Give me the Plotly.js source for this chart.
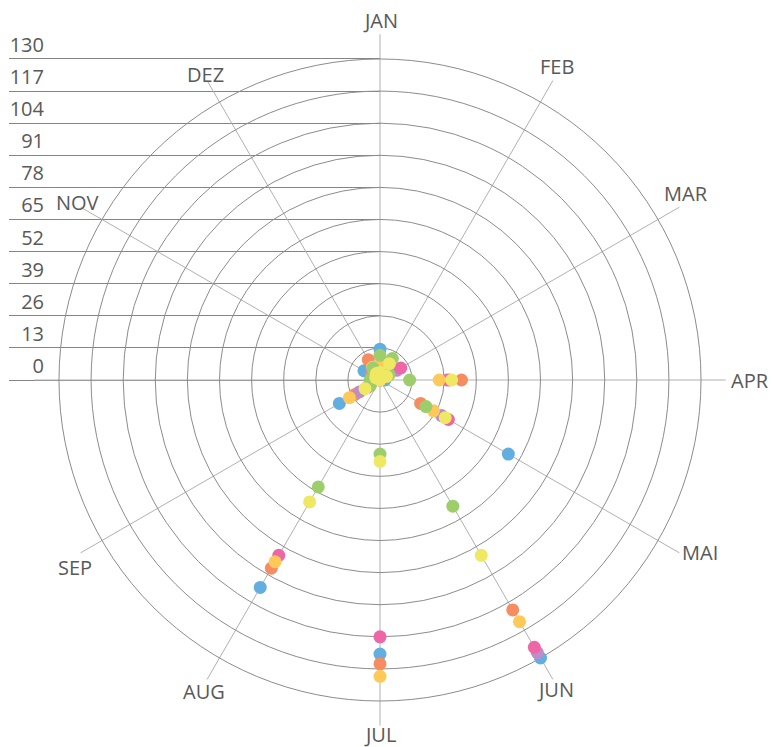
<!DOCTYPE html>
<html>
<head>
<meta charset="utf-8">
<script src="https://cdn.plot.ly/plotly-3.0.1.min.js"></script>
<style>html,body{margin:0;padding:0;background:#fff;}#chart{width:773px;height:747px;}</style>
</head>
<body>
<div id="chart"></div>
<script>
// Categories (months) and tick labels
const months = ['JAN','FEB','MAR','APR','MAI','JUN','JUL','AUG','SEP','OKT','NOV','DEZ'];
const monthLabels = ['JAN','FEB','MAR','APR','MAI','JUN','JUL','AUG','SEP','','NOV','DEZ'];
const radialTicks = [0,13,26,39,52,65,78,91,104,117,130];

// Series values (JAN..DEZ)
const seriesBlue   = [12.5, 3, 2, 2, 60, 130, 111, 97, 19, 0, 7.5, 3];
const seriesOrange = [6, 5, 4, 33, 19, 107.5, 115, 88, 11.7, 0, 4, 9.5];
const seriesPurple = [4, 5, 7.8, 27, 28.8, 127.5, null, null, 9.7, 0, 3, 4];
const seriesPink   = [4, 5, 9.7, 28, 32, 125, 104, 82, 6, 0, 2, 3];
const seriesGolden = [6, 4, 3, 24, 25, 113, 120, 85, 14.3, 0, 3, 6];
const seriesGreen  = [10, 10, 4.2, 12, 21.5, 59, 30, 50, 4.5, 4, 3, 5.6];
const seriesYellow = [3, 7.6, 3, 29, 30.5, 82, 33, 57, 7, 0, 2, 3];

const series = [
  {v: seriesBlue,   c: '#62AEE0'},
  {v: seriesOrange, c: '#F68D62'},
  {v: seriesPurple, c: '#BD8DC9'},
  {v: seriesPink,   c: '#EE66A6'},
  {v: seriesGolden, c: '#FFC95A'},
  {v: seriesGreen,  c: '#9DCE6B'},
  {v: seriesYellow, c: '#EEE862'}
];

const W = 773, H = 747;
const cx = 380, cyTop = 380, cy = H - cyTop;
const rMaxPx = 345.7, rMax = 140;
const pxPerUnit = rMaxPx / rMax;
const yLo = -1, yHi = 131;
// label placement (direction in degrees clockwise from top, distance in px from centre)
const labelAngle = [0, 29.5, 58.6, 90, 118.3, 150.5, 180, 209.4, 238.5, 270, 300.4, 330.2];
const labelDist  = [360, 360, 358.6, 370, 363, 356, 354, 358, 358, 0, 351, 352];

const traces = series.map(s => ({
  type: 'scatterpolar', mode: 'markers',
  r: s.v, theta: months,
  marker: {color: s.c, size: 13, line: {width: 0}},
  hoverinfo: 'skip', showlegend: false
}));

// invisible helper traces so the cartesian radial scale is drawn
traces.push({type:'scatter', x: radialTicks.map(()=>0), y: radialTicks, xaxis:'x', yaxis:'y',
  mode:'markers', marker:{opacity:0}, hoverinfo:'skip', showlegend:false});
traces.push({type:'scatter', x: radialTicks.map(()=>0), y: radialTicks, xaxis:'x', yaxis:'y2',
  mode:'markers', marker:{opacity:0}, hoverinfo:'skip', showlegend:false});

// month labels placed around the circle
const annotations = [];
monthLabels.forEach((lab, i) => {
  if (!lab) return;
  const th = labelAngle[i] * Math.PI / 180;
  const s = Math.sin(th), c = Math.cos(th);
  const rl = labelDist[i];
  annotations.push({
    text: lab, showarrow: false, xref: 'paper', yref: 'paper',
    x: (cx + rl * s) / W, y: (cy + rl * c) / H,
    xanchor: 'center', yanchor: 'middle',
    font: {size: 20, color: '#595959', family: 'Open Sans, Noto Sans, sans-serif'}
  });
});

const layout = {
  width: W, height: H,
  margin: {l:0, r:0, t:0, b:0, pad:0},
  paper_bgcolor: '#fff', plot_bgcolor: 'rgba(0,0,0,0)',
  showlegend: false,
  font: {family: 'Open Sans, Noto Sans, sans-serif', color: '#595959', size: 20},
  xaxis: {domain: [9/W, cx/W], range: [0,1], visible: false, fixedrange: true},
  yaxis: {domain: [(cy + yLo*pxPerUnit)/H, (cy + yHi*pxPerUnit)/H], range: [yLo, yHi], tickvals: radialTicks,
          showticklabels: false, showgrid: true, gridcolor: '#858585', gridwidth: 1,
          zeroline: false, showline: false, ticks: '', fixedrange: true},
  yaxis2: {overlaying: 'y', anchor: 'free', position: 44/W, side: 'left',
           range: [yLo, yHi], tickvals: radialTicks, ticklabelposition: 'outside top',
           showgrid: false, zeroline: false, showline: false, ticks: '',
           tickfont: {size: 20, color: '#595959'}, fixedrange: true},
  polar: {
    domain: {x: [(cx - rMaxPx)/W, (cx + rMaxPx)/W], y: [(cy - rMaxPx)/H, (cy + rMaxPx)/H]},
    bgcolor: 'rgba(0,0,0,0)',
    radialaxis: {range: [0, rMax], tickvals: radialTicks.slice(1), showticklabels: false,
                 ticks: '', showline: false, gridcolor: '#8c8c8c', gridwidth: 1},
    angularaxis: {type: 'category', categoryorder: 'array', categoryarray: months,
                  direction: 'clockwise', rotation: 90, showticklabels: false,
                  showline: false, ticks: '', gridcolor: '#b0b0b0', gridwidth: 1}
  },
  annotations: annotations
};

Plotly.newPlot('chart', traces, layout, {displayModeBar: false, staticPlot: true});
</script>
</body>
</html>
